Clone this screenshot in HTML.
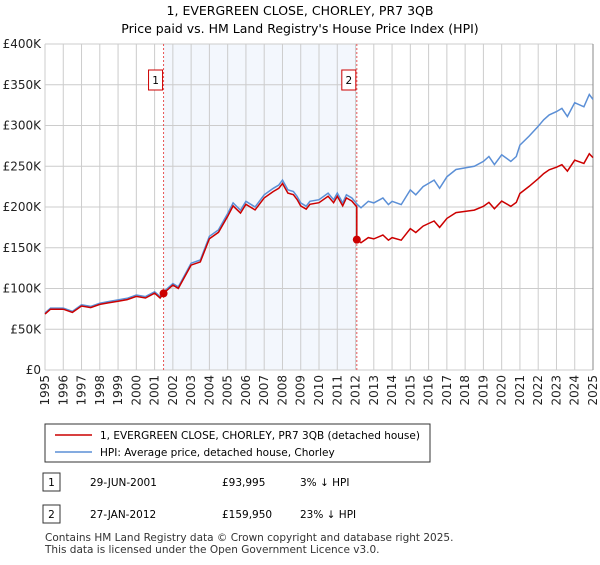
<!DOCTYPE html>
<html><head><meta charset="utf-8">
<style>
body{margin:0;background:#fff;font-family:"Liberation Sans","DejaVu Sans",sans-serif;}
svg text{font-family:"DejaVu Sans","Liberation Sans",sans-serif;}
</style></head>
<body>
<svg id="chart" width="600" height="560" xmlns="http://www.w3.org/2000/svg">
<text x="300" y="15" text-anchor="middle" font-size="12.5">1, EVERGREEN CLOSE, CHORLEY, PR7 3QB</text>
<text x="300" y="33" text-anchor="middle" font-size="12.5">Price paid vs. HM Land Registry's House Price Index (HPI)</text>
<g id="plot"></g>
<g>
<rect x="45" y="424" width="385" height="38" fill="#fff" stroke="#333" stroke-width="1"/>
<line x1="55" y1="435" x2="92" y2="435" stroke="#cc0000" stroke-width="1.6"/>
<text x="100" y="439" font-size="10.5">1, EVERGREEN CLOSE, CHORLEY, PR7 3QB (detached house)</text>
<line x1="55" y1="452" x2="92" y2="452" stroke="#5b8fd6" stroke-width="1.6"/>
<text x="100" y="456" font-size="10.5">HPI: Average price, detached house, Chorley</text>
</g>
<g font-size="10.5">
<rect x="43" y="473" width="17" height="18" fill="#fff" stroke="#333"/>
<text x="51.5" y="486" text-anchor="middle">1</text>
<text x="90" y="486">29-JUN-2001</text>
<text x="222" y="486">£93,995</text>
<text x="300" y="486">3% ↓ HPI</text>
<rect x="43" y="505" width="17" height="18" fill="#fff" stroke="#333"/>
<text x="51.5" y="518" text-anchor="middle">2</text>
<text x="90" y="518">27-JAN-2012</text>
<text x="222" y="518">£159,950</text>
<text x="300" y="518">23% ↓ HPI</text>
</g>
<text x="45" y="541" font-size="10.5" fill="#333">Contains HM Land Registry data © Crown copyright and database right 2025.</text>
<text x="45" y="553" font-size="10.5" fill="#333">This data is licensed under the Open Government Licence v3.0.</text>
</svg>
<script>
const hpiT=[1995.0,1995.3,1996,1996.5,1997,1997.5,1998,1998.5,1999,1999.5,2000,2000.5,2001,2001.3,2001.5,2002,2002.3,2003,2003.5,2004,2004.5,2005,2005.3,2005.7,2006,2006.5,2007,2007.5,2007.8,2008,2008.3,2008.6,2008.8,2009,2009.3,2009.5,2010,2010.5,2010.8,2011,2011.3,2011.5,2011.8,2012.1,2012.3,2012.7,2013,2013.5,2013.8,2014,2014.5,2015,2015.3,2015.7,2016,2016.3,2016.6,2017,2017.5,2018,2018.5,2019,2019.3,2019.6,2020,2020.5,2020.8,2021,2021.5,2022,2022.3,2022.6,2023,2023.3,2023.6,2024,2024.5,2024.8,2025];
const hpiV=[70,76,76,72,80,78,82,84,86,88,92,90,96,90,96,106,102,131,135,164,172,192,205,196,207,200,215,223,227,233,221,219,213,205,201,207,209,217,209,217,205,215,211,203,199,207,205,211,203,207,203,221,215,225,229,233,223,237,246,248,250,256,262,252,264,256,262,276,287,299,307,313,317,321,311,328,323,338,332];
const saleT=[2001.49,2012.07];
const saleV=[93.995,159.95];
const saleLabels=["1","2"];
const yTicks=[0,50,100,150,200,250,300,350,400];
const yTickLabels=["£0","£50K","£100K","£150K","£200K","£250K","£300K","£350K","£400K"];
const xTicks=[];for(let y=1995;y<=2025;y++)xTicks.push(y);

const X0=45,X1=593,Y0=370,Y1=44;
const xs=t=>X0+(t-1995)/30*(X1-X0);
const ys=v=>Y0-v/400*(Y0-Y1);
const NS="http://www.w3.org/2000/svg";
const g=document.getElementById('plot');
function mk(tag,attrs,parent){const e=document.createElementNS(NS,tag);for(const k in attrs)e.setAttribute(k,attrs[k]);(parent||g).appendChild(e);return e;}
function hpiAt(t){for(let i=0;i<hpiT.length-1;i++){if(t>=hpiT[i]&&t<=hpiT[i+1]){const f=(t-hpiT[i])/(hpiT[i+1]-hpiT[i]);return hpiV[i]+f*(hpiV[i+1]-hpiV[i]);}}return hpiV[hpiV.length-1];}

const shade=mk('rect',{x:xs(saleT[0]),y:Y1,width:xs(saleT[1])-xs(saleT[0]),height:Y0-Y1,fill:'#eef3fc',opacity:'0.7'});


yTicks.forEach((v,i)=>{
 const l=mk('line',{x1:X0,x2:X1,y1:ys(v),y2:ys(v),stroke:'#cccccc','stroke-width':1});
 
 
 const t=mk('text',{x:X0-4,y:ys(v)+4,'text-anchor':'end','font-size':12,fill:'#222'});
 
 
 t.textContent=yTickLabels[i];
});
xTicks.forEach(y=>{
 const l=mk('line',{x1:xs(y),x2:xs(y),y1:Y1,y2:Y0,stroke:'#cccccc','stroke-width':1});
 
 
 const t=mk('text',{x:0,y:0,transform:`translate(${xs(y)+4},${Y0+5}) rotate(-90)`,'text-anchor':'end','font-size':12,fill:'#222'});
 
 
 t.textContent=y;
});
const bd=mk('line',{x1:X1,x2:X1,y1:Y1,y2:Y0,stroke:'#888','stroke-width':1});


saleT.forEach((t,i)=>{
 const l=mk('line',{x1:xs(t),x2:xs(t),y1:Y1,y2:Y0,stroke:'#e85555','stroke-width':1,'stroke-dasharray':'2,2'});
 
 
 const r=mk('rect',{x:xs(t)-15,y:70,width:14,height:20,fill:'#fff',stroke:'#cc0000'});
 
 
 const tx=mk('text',{x:xs(t)-8,y:84,'text-anchor':'middle','font-size':10.5});
 
 
 tx.textContent=saleLabels[i];
});
const hp=hpiT.map((t,i)=>xs(t).toFixed(1)+','+ys(hpiV[i]).toFixed(1)).join(' ');
const hl=mk('polyline',{points:hp,fill:'none',stroke:'#5b8fd6','stroke-width':1.5});


const r1=saleV[0]/hpiAt(saleT[0]), r2=saleV[1]/hpiAt(saleT[1]);
const pts=[];
hpiT.forEach((t,i)=>{ if(t<saleT[1]) pts.push([t,hpiV[i]*r1]); });
pts.push([saleT[1],hpiAt(saleT[1])*r1]);
pts.push([saleT[1],saleV[1]]);
hpiT.forEach((t,i)=>{ if(t>saleT[1]) pts.push([t,hpiV[i]*r2]); });
const rl=mk('polyline',{points:pts.map(p=>xs(p[0]).toFixed(1)+','+ys(p[1]).toFixed(1)).join(' '),fill:'none',stroke:'#cc0000','stroke-width':1.5});


saleT.forEach((t,i)=>{
 const c=mk('circle',{cx:xs(t),cy:ys(saleV[i]),r:4,fill:'#cc0000'});
 
 
});
</script>
</body></html>
